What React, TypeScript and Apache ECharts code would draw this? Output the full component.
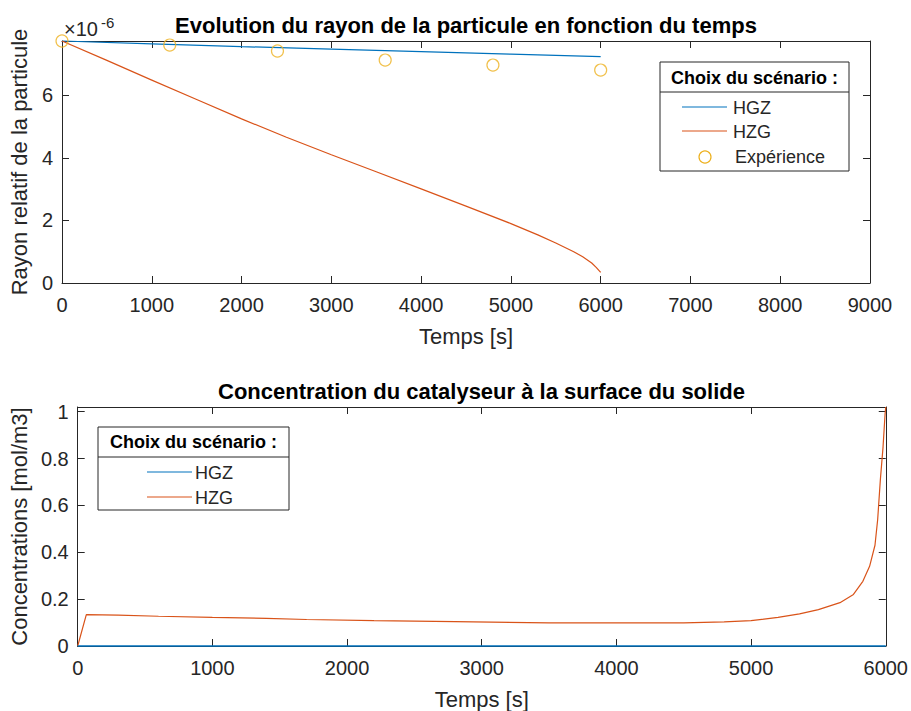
import React, { useEffect, useRef } from "react";
import * as echarts from "echarts";

// ---- Data (top plot: relative radius, values in units of 1e-6) ----
const timeHGZ = [0, 1000, 2000, 3000, 4000, 5000, 6000];
const radiusHGZ = [7.74, 7.65, 7.56, 7.48, 7.4, 7.32, 7.24];
const timeHZG = [0, 500, 1000, 1500, 2000, 2500, 3000, 3500, 4000, 4500, 5000, 5300, 5500, 5700, 5800, 5900, 5950, 6000];
const radiusHZG = [7.74, 7.12, 6.49, 5.87, 5.25, 4.66, 4.1, 3.56, 3.01, 2.46, 1.9, 1.54, 1.28, 1.0, 0.84, 0.64, 0.5, 0.34];
const timeExp = [0, 1200, 2400, 3600, 4800, 6000];
const radiusExp = [7.74, 7.61, 7.42, 7.13, 6.97, 6.81];

// ---- Data (bottom plot: catalyst concentration at solid surface) ----
const timeConcHGZ = [0, 1000, 2000, 3000, 4000, 5000, 6000];
const concHGZ = [0, 0, 0, 0, 0, 0, 0];
const timeConcHZG = [0, 64, 300, 600, 1000, 1400, 1700, 2200, 2800, 3500, 4000, 4500, 4800, 5000, 5200, 5360, 5500, 5660, 5760, 5830, 5880, 5920, 5940, 5960, 5980, 5995, 6000];
const concHZG = [0, 0.134, 0.132, 0.127, 0.122, 0.118, 0.113, 0.108, 0.104, 0.099, 0.099, 0.099, 0.103, 0.108, 0.122, 0.137, 0.155, 0.185, 0.22, 0.276, 0.34, 0.43, 0.54, 0.71, 0.85, 0.99, 1.02];

// ---- Texts ----
const titleTop = "Evolution du rayon de la particule en fonction du temps";
const titleBottom = "Concentration du catalyseur à la surface du solide";
const xName = "Temps [s]";
const yNameTop = "Rayon relatif de la particule";
const yNameBottom = "Concentrations [mol/m3]";
const legendTitle = "Choix du scénario :";
const seriesNames = ["HGZ", "HZG", "Expérience"];

const BLUE = "#0072BD";
const ORANGE = "#D95319";
const YELLOW = "#EDB120";
const AX = "#262626";
const FONT = "'Liberation Sans', Arial, Helvetica, sans-serif";

const zip = (xs: number[], ys: number[]) => xs.map((x, i) => [x, ys[i]]);

function App() {
  const ref = useRef<HTMLDivElement>(null);
  useEffect(() => {
    if (!ref.current) return;
    const chart = echarts.init(ref.current, undefined, { renderer: "svg" });

    const tickLbl = { color: AX, fontSize: 20, fontFamily: FONT };
    const nameStyle = { color: AX, fontSize: 22, fontFamily: FONT };
    const axLine = { show: true, onZero: false, lineStyle: { color: AX, width: 1 } };
    const tick = { show: true, inside: true, length: 7, lineStyle: { color: AX, width: 1 } };

    const mkX = (grid: number, max: number, main: boolean) => ({
      type: "value",
      gridIndex: grid,
      min: 0,
      max,
      interval: 1000,
      position: main ? "bottom" : "top",
      axisLine: axLine,
      axisTick: tick,
      splitLine: { show: false },
      axisLabel: main ? { ...tickLbl, margin: 12, formatter: (v: number) => String(v) } : { show: false },
      name: main ? xName : "",
      nameLocation: "middle",
      nameGap: 42,
      nameTextStyle: nameStyle,
    });
    const mkY = (grid: number, max: number, interval: number, main: boolean, name: string, gap: number) => ({
      type: "value",
      gridIndex: grid,
      min: 0,
      max,
      interval,
      position: main ? "left" : "right",
      axisLine: axLine,
      axisTick: tick,
      splitLine: { show: false },
      axisLabel: main
        ? {
            ...tickLbl,
            margin: 9,
            formatter: (v: number) => {
              const r = v / interval;
              return Math.abs(r - Math.round(r)) < 1e-6 ? String(+v.toFixed(2)) : "";
            },
          }
        : { show: false },
      name: main ? name : "",
      nameLocation: "middle",
      nameGap: gap,
      nameTextStyle: nameStyle,
    });

    const txt = (text: string, x: number, y: number, size: number, opts: any = {}) => ({
      type: "text",
      z: 101,
      style: {
        text,
        x,
        y,
        fill: opts.fill || AX,
        font: `${opts.bold ? "bold " : ""}${size}px ${FONT}`,
        align: opts.align || "left",
        textAlign: opts.align || "left",
        verticalAlign: "middle",
        textVerticalAlign: "middle",
      },
    });
    const seg = (x1: number, x2: number, y: number, color: string) => ({
      type: "line",
      z: 101,
      shape: { x1, y1: y, x2, y2: y },
      style: { stroke: color, lineWidth: 1.2 },
    });
    const box = (x: number, y: number, w: number, h: number, sepY: number) => [
      {
        type: "rect",
        z: 100,
        shape: { x, y, width: w, height: h },
        style: { fill: "#ffffff", stroke: AX, lineWidth: 1 },
      },
      {
        type: "line",
        z: 101,
        shape: { x1: x, y1: sepY, x2: x + w, y2: sepY },
        style: { stroke: AX, lineWidth: 1 },
      },
    ];

    const option: any = {
      animation: false,
      backgroundColor: "#ffffff",
      grid: [
        { left: 62, top: 41, width: 808, height: 242 },
        { left: 77, top: 407, width: 809, height: 241.5 },
      ],
      xAxis: [mkX(0, 9000, true), mkX(0, 9000, false), mkX(1, 6000, true), mkX(1, 6000, false)],
      yAxis: [
        mkY(0, 7.74, 2, true, yNameTop, 29),
        mkY(0, 7.74, 2, false, "", 0),
        mkY(1, 1.02, 0.2, true, yNameBottom, 46),
        mkY(1, 1.02, 0.2, false, "", 0),
      ],
      series: [
        {
          name: seriesNames[0],
          type: "line",
          xAxisIndex: 0,
          yAxisIndex: 0,
          data: zip(timeHGZ, radiusHGZ),
          showSymbol: false,
          clip: false,
          lineStyle: { color: BLUE, width: 1.2 },
          itemStyle: { color: BLUE },
        },
        {
          name: seriesNames[1],
          type: "line",
          xAxisIndex: 0,
          yAxisIndex: 0,
          data: zip(timeHZG, radiusHZG),
          showSymbol: false,
          clip: false,
          lineStyle: { color: ORANGE, width: 1.2 },
          itemStyle: { color: ORANGE },
        },
        {
          name: seriesNames[2],
          type: "scatter",
          xAxisIndex: 0,
          yAxisIndex: 0,
          data: zip(timeExp, radiusExp),
          symbol: "circle",
          symbolSize: 12,
          clip: false,
          itemStyle: { color: "rgba(0,0,0,0)", borderColor: YELLOW, borderWidth: 1.2 },
          z: 5,
        },
        {
          name: seriesNames[0] + " ",
          type: "line",
          xAxisIndex: 2,
          yAxisIndex: 2,
          data: zip(timeConcHGZ, concHGZ),
          showSymbol: false,
          clip: false,
          lineStyle: { color: BLUE, width: 1.5 },
          itemStyle: { color: BLUE },
          z: 4,
        },
        {
          name: seriesNames[1] + " ",
          type: "line",
          xAxisIndex: 2,
          yAxisIndex: 2,
          data: zip(timeConcHZG, concHZG),
          showSymbol: false,
          clip: false,
          lineStyle: { color: ORANGE, width: 1.2 },
          itemStyle: { color: ORANGE },
        },
      ],
      graphic: [
        txt(titleTop, 466, 25, 22, { bold: true, fill: "#000", align: "center" }),
        txt(titleBottom, 481.5, 391, 22, { bold: true, fill: "#000", align: "center" }),
        txt("×10", 64, 29, 20),
        txt("-6", 101, 22, 15),
        // top legend
        ...box(660, 62, 189, 109, 92),
        txt(legendTitle, 754.5, 77.5, 18, { bold: true, fill: "#000", align: "center" }),
        seg(682, 727, 107, BLUE),
        txt(seriesNames[0], 733, 108, 18),
        seg(682, 727, 131, ORANGE),
        txt(seriesNames[1], 733, 132, 18),
        {
          type: "circle",
          z: 101,
          shape: { cx: 705, cy: 157, r: 6 },
          style: { fill: "none", stroke: YELLOW, lineWidth: 1.2 },
        },
        txt(seriesNames[2], 735, 157, 18),
        // bottom legend
        ...box(98, 427, 191, 83, 457),
        txt(legendTitle, 193.5, 442, 18, { bold: true, fill: "#000", align: "center" }),
        seg(147, 192, 472, BLUE),
        txt(seriesNames[0], 195, 473, 18),
        seg(147, 192, 497, ORANGE),
        txt(seriesNames[1], 195, 498, 18),
      ],
    };
    chart.setOption(option);
    return () => chart.dispose();
  }, []);
  return (
    <div
      ref={ref}
      style={{ position: "fixed", left: 0, top: 0, width: 911, height: 711, background: "#fff" }}
    />
  );
}

export default App;
